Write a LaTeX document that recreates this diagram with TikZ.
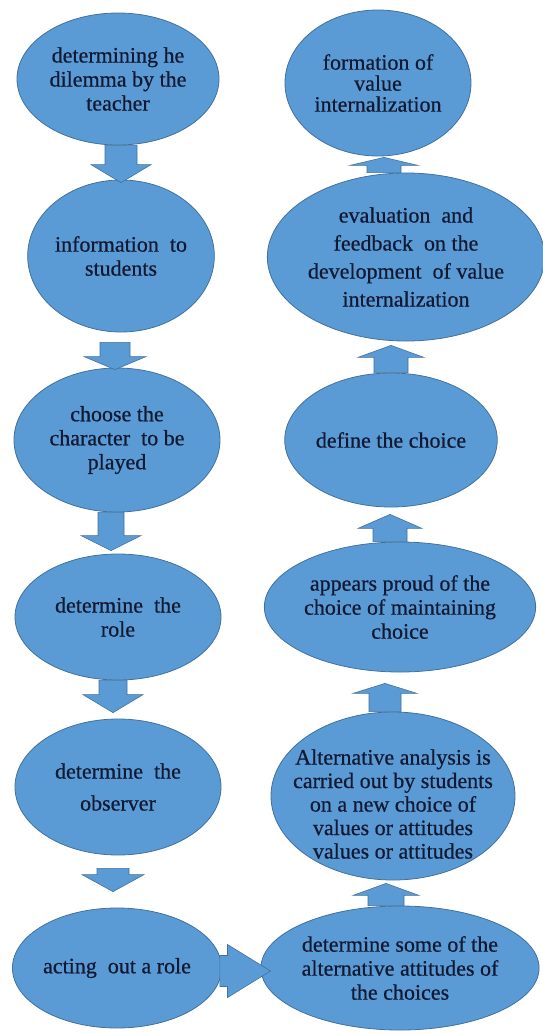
\documentclass[tikz,border=0pt]{standalone}
\usepackage{fontspec}
\setmainfont{Liberation Serif}
\newfontfamily\diagserif[FakeBold=0.6]{Liberation Serif}
\usetikzlibrary{calc,shapes.geometric}
\definecolor{boxfill}{HTML}{5B9BD5}
\definecolor{boxline}{HTML}{41719C}
\definecolor{txt}{HTML}{121A33}
\tikzset{
  bub/.style={ellipse, fill=boxfill, draw=boxline, line width=0.8pt, text=txt,
    align=center, inner sep=0pt, font=\diagserif\fontsize{22}{24}\selectfont},
  arrowbody/.style={fill=boxfill, draw=boxline, line width=0.6pt, line join=miter}
}
\newcommand\blockarrow[5]{% #1 tail, #2 tip, #3 shaft half width, #4 head half width, #5 head length
  \coordinate (bh) at ($(#2)!#5!(#1)$);
  \filldraw[arrowbody] ($(#1)!#3!90:(#2)$) -- ($(bh)!#3!-90:(#1)$) -- ($(bh)!#4!-90:(#1)$)
    -- (#2) -- ($(bh)!#4!90:(#1)$) -- ($(bh)!#3!90:(#1)$) -- ($(#1)!#3!-90:(#2)$) -- cycle;}
\begin{document}
\begin{tikzpicture}[x=1pt,y=-1pt]
\useasboundingbox[fill=white] (0,0) rectangle (542,1034);
% left column
\node[bub, minimum width=202pt, minimum height=132pt] (L1) at (118,79) {determining he\\dilemma by the\\teacher};
\node[bub, minimum width=166pt, minimum height=152pt] (L2) at (121,256) {information\ \ to\\students};
\node[bub, minimum width=206pt, minimum height=144pt] (L3) at (117,440) {choose the\\character\ \ to be\\played};
\node[bub, minimum width=206pt, minimum height=126pt] (L4) at (118,617) {determine\ \ the\\role};
\node[bub, minimum width=206pt, minimum height=136pt, font=\diagserif\fontsize{22}{32}\selectfont] (L5) at (118,787) {determine\ \ the\\observer};
\node[bub, minimum width=204pt, minimum height=120pt] (L6) at (117,968) {acting\ \ out a role};
% right column
\node[bub, minimum width=186pt, minimum height=146pt, font=\diagserif\fontsize{22}{21}\selectfont] (R1) at (378,83) {formation of\\value\\internalization};
\node[bub, minimum width=264pt, minimum height=168pt, font=\diagserif\fontsize{22}{28}\selectfont] (R2) at (406,257) {evaluation\ \ and\\feedback\ \ on the\\development\ \ of value\\internalization};
\node[bub, minimum width=202pt, minimum height=134pt] (R3) at (391,440) {define the choice};
\node[bub, minimum width=254pt, minimum height=130pt] (R4) at (400,607) {appears proud of the\\choice of maintaining\\choice};
\node[bub, minimum width=244pt, minimum height=168pt] (R5) at (393,796) {};
\node[text=txt, align=center, font=\diagserif\fontsize{22}{23.5}\selectfont, inner sep=0pt] (R5t) at (393,804) {Alternative analysis is\\carried out by students\\on a new choice of\\values or attitudes\\values or attitudes};
\node[bub, minimum width=228pt, minimum height=124pt] (R6) at (400,968) {determine some of the\\alternative attitudes of\\the choices};
% left column arrows (down)
\coordinate (a1s) at ($(L1.south)+(3,0)$);   \coordinate (a1e) at ($(a1s |- L2.north)+(0,3)$);
\coordinate (a2s) at ($(L2.south)+(-6,10)$); \coordinate (a2e) at ($(a2s |- L3.north)+(0,2)$);
\coordinate (a3s) at ($(L3.south)+(-6,0)$);  \coordinate (a3e) at ($(a3s |- L4.north)+(0,-3)$);
\coordinate (a4s) at ($(L4.south)+(-5,0)$);  \coordinate (a4e) at ($(a4s |- L5.north)+(0,-6)$);
\coordinate (a5s) at ($(L5.south)+(-5,13)$); \coordinate (a5e) at ($(a5s |- L6.north)+(0,-16)$);
\blockarrow{a1s}{a1e}{16pt}{30pt}{18pt}
\blockarrow{a2s}{a2e}{15pt}{31pt}{13pt}
\blockarrow{a3s}{a3e}{13pt}{30pt}{15pt}
\blockarrow{a4s}{a4e}{14pt}{30pt}{18pt}
\blockarrow{a5s}{a5e}{16pt}{31pt}{17pt}
% horizontal arrow
\coordinate (hs) at ($(L6.east)+(-2,3)$); \coordinate (he) at ($(hs -| R6.west)+(10,0)$);
\blockarrow{hs}{he}{15.5pt}{26.5pt}{43pt}
% right column arrows (up)
\coordinate (b1s) at ($(R6.north)+(-14,0)$); \coordinate (b1e) at ($(b1s |- R5.south)+(0,3)$);
\coordinate (b2s) at ($(R5.north)+(-8,0)$);  \coordinate (b2e) at ($(b2s |- R4.south)+(0,11)$);
\coordinate (b3s) at ($(R4.north)+(-10,0)$); \coordinate (b3e) at ($(b3s |- R3.south)+(0,7)$);
\coordinate (b4s) at ($(R3.north)+(0,0)$);   \coordinate (b4e) at ($(b4s |- R2.south)+(0,4)$);
\coordinate (b5s) at ($(R2.north)+(-22,0)$); \coordinate (b5e) at ($(b5s |- R1.south)+(0,1)$);
\blockarrow{b1s}{b1e}{18pt}{33pt}{12pt}
\blockarrow{b2s}{b2e}{16pt}{32pt}{10pt}
\blockarrow{b3s}{b3e}{17pt}{32pt}{14pt}
\blockarrow{b4s}{b4e}{17pt}{33pt}{12pt}
\blockarrow{b5s}{b5e}{17pt}{34pt}{8pt}
\end{tikzpicture}
\end{document}
